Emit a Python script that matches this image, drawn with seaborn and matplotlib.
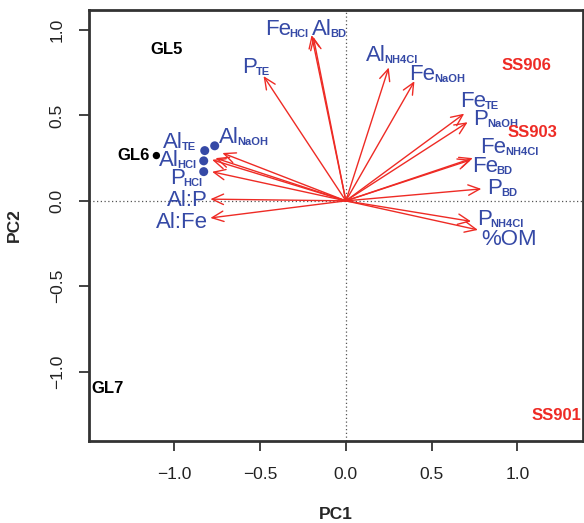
import numpy as np
import pandas as pd
import matplotlib
matplotlib.use("Agg")
import matplotlib.pyplot as plt
import seaborn as sns

# loadings (arrow tips)
var_names = ["Fe_HCl", "Al_BD", "P_TE", "Al_NaOH", "Al_TE", "Al_HCl", "P_HCl", "Al:P", "Al:Fe",
             "Al_NH4Cl", "Fe_NaOH", "Fe_TE", "P_NaOH", "Fe_NH4Cl", "Fe_BD", "P_BD", "P_NH4Cl", "%OM"]
arrow_x = [-0.20, -0.19, -0.48, -0.72, -0.76, -0.78, -0.78, -0.79, -0.79,
           0.25, 0.40, 0.69, 0.71, 0.74, 0.73, 0.79, 0.73, 0.77]
arrow_y = [0.97, 0.96, 0.73, 0.28, 0.25, 0.24, 0.17, 0.01, -0.10,
           0.78, 0.70, 0.51, 0.46, 0.25, 0.24, 0.07, -0.12, -0.17]
# label left edge / baseline
label_x = [-0.473, -0.198, -0.603, -0.741, -1.068, -1.092, -1.027, -1.045, -1.109,
           0.117, 0.368, 0.665, 0.743, 0.782, 0.734, 0.825, 0.763, 0.792]
label_y = [0.971, 0.971, 0.750, 0.341, 0.308, 0.206, 0.098, -0.033, -0.156,
           0.819, 0.708, 0.551, 0.444, 0.279, 0.171, 0.041, -0.140, -0.261]

# blue points next to the Al cluster
dot_x = [-0.823, -0.765, -0.829, -0.829]
dot_y = [0.294, 0.322, 0.234, 0.171]

# sample labels
site_names = ["GL5", "GL6", "GL7", "SS906", "SS903", "SS901"]
site_x = [-1.043, -1.105, -1.387, 1.055, 1.09, 1.23]
site_y = [0.883, 0.265, -1.095, 0.791, 0.40, -1.257]
site_group = ["GL", "GL", "GL", "SS", "SS", "SS"]

BLUE = "#3549a6"
RED = "#ee2b25"

sns.set_style("white")
plt.rcParams["font.family"] = ["Liberation Sans", "DejaVu Sans"]

fig, ax = plt.subplots(figsize=(5.84, 5.23), dpi=100)
fig.subplots_adjust(left=0.1524, right=0.998, bottom=0.1568, top=0.981)

ax.axhline(0, color="#555555", lw=0.9, ls=(0, (1, 2)), zorder=1)
ax.axvline(0, color="#555555", lw=0.9, ls=(0, (1, 2)), zorder=1)

for x, y in zip(arrow_x, arrow_y):
    ax.annotate("", xy=(x, y), xytext=(0, 0),
                arrowprops=dict(arrowstyle="->,head_length=0.55,head_width=0.25",
                                color=RED, lw=1.0, mutation_scale=15,
                                shrinkA=0, shrinkB=0))

for name, x, y in zip(var_names, label_x, label_y):
    base, sub = (name.split("_") + [""])[:2]
    t = ax.text(x, y, base, color=BLUE, fontsize=16, ha="left", va="baseline")
    if sub:
        # subscript glued to the right edge of the base text
        ax.annotate(sub, xy=(1, 0), xycoords=t, xytext=(-0.8, 2.2),
                    textcoords="offset points", color=BLUE, fontsize=8,
                    fontweight="bold", ha="left", va="baseline")

dots = pd.DataFrame({"x": dot_x, "y": dot_y})
sns.scatterplot(data=dots, x="x", y="y", color=BLUE, s=42, edgecolor="none", ax=ax, zorder=3)

gl6 = pd.DataFrame({"x": [site_x[1]], "y": [site_y[1]]})
sns.scatterplot(data=gl6, x="x", y="y", color="black", s=28, edgecolor="none", ax=ax, zorder=3)

for name, x, y, g in zip(site_names, site_x, site_y, site_group):
    col = "black" if g == "GL" else RED
    if name == "GL6":
        ax.text(x - 0.039, y, name, color=col, fontsize=12, fontweight="bold",
                ha="right", va="center")
    else:
        ax.text(x, y, name, color=col, fontsize=12, fontweight="bold",
                ha="center", va="center")

ax.set_xlim(-1.498, 1.382)
ax.set_ylim(-1.405, 1.117)
ax.set_xticks([-1.0, -0.5, 0.0, 0.5, 1.0])
ax.set_yticks([-1.0, -0.5, 0.0, 0.5, 1.0])
ax.tick_params(axis="both", direction="out", length=7.5, width=1.2, labelsize=12.5,
               colors="#222222", bottom=True, left=True)
ax.tick_params(axis="x", pad=11)
ax.tick_params(axis="y", pad=10)
for lab in ax.get_yticklabels():
    lab.set_rotation(90)
    lab.set_va("center")
ax.set_xlabel("PC1", fontsize=12.5, fontweight="bold", labelpad=18)
ax.set_ylabel("PC2", fontsize=12.5, fontweight="bold", labelpad=20)
for sp in ax.spines.values():
    sp.set_visible(True)
    sp.set_color("#333333")
    sp.set_linewidth(2.0)

fig.savefig("out.png", dpi=100)
